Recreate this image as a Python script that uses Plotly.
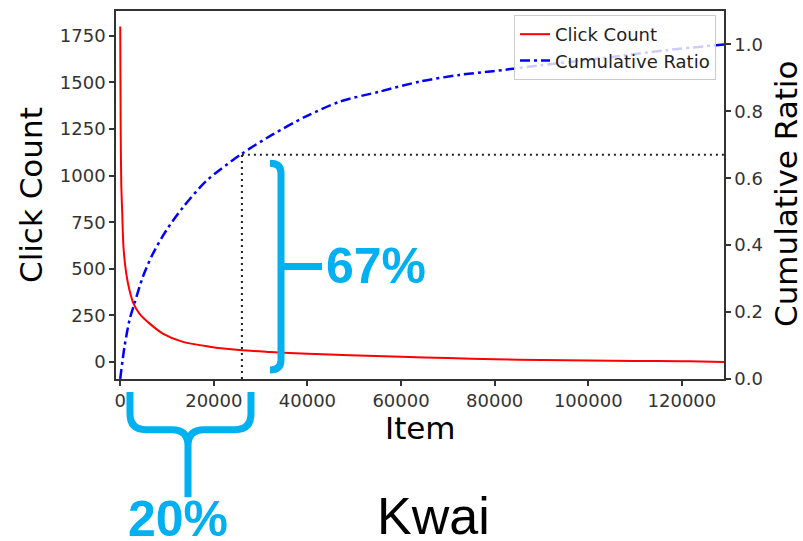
import plotly.graph_objects as go

# ---- data -------------------------------------------------------------
click_items = [0, 100, 220, 430, 700, 1300, 2000, 2850, 4100, 6300, 9100,
               13400, 19100, 25500, 32000, 40000, 49000, 60000, 70000,
               80000, 90000, 100000, 110000, 120000, 124000, 129000]
click_count = [1800, 1250, 960, 800, 615, 473, 384, 313, 260, 206, 153,
               108, 82, 64, 54, 44, 37, 28, 21,
               15, 11, 8, 6, 4, 3, 0]

ratio_items = [0, 920, 2000, 3050, 4830, 6970, 9830, 13400, 18400, 25850,
               32600, 39700, 46900, 55400, 64000, 72500, 79600, 90000,
               102500, 116700, 129000]
cum_ratio = [0.0, 0.097, 0.177, 0.226, 0.305, 0.374, 0.444, 0.513, 0.592, 0.672,
             0.731, 0.785, 0.829, 0.859, 0.889, 0.909, 0.920, 0.938,
             0.958, 0.983, 1.0]

total_items = 129000
cutoff_item = 26000
cutoff_ratio = 0.67

x_ticks = [0, 20000, 40000, 60000, 80000, 100000, 120000]
count_ticks = [0, 250, 500, 750, 1000, 1250, 1500, 1750]
ratio_ticks = [0.0, 0.2, 0.4, 0.6, 0.8, 1.0]

# ---- layout helpers (pixel -> paper) ----------------------------------
W, H = 803, 541
L, R, T, B = 116, 724, 9, 379


def px(xp):
    return (xp - L) / (R - L)


def py(yp):
    return (B - yp) / (B - T)


CYAN = "#00B0F0"
AXIS = "#333333"

fig = go.Figure()
fig.add_trace(go.Scatter(
    x=click_items, y=click_count, name="Click Count", mode="lines",
    line=dict(color="#FF0000", width=2, shape="spline", smoothing=0.8), yaxis="y"))
fig.add_trace(go.Scatter(
    x=ratio_items, y=cum_ratio, name="Cumulative Ratio", mode="lines",
    line=dict(color="#0000FF", width=2.5, dash="10px,4px,3px,4px",
              shape="spline", smoothing=0.8), yaxis="y2"))

shapes = [
    # dotted guide lines at the cutoff
    dict(type="line", xref="x", yref="y2", x0=cutoff_item, x1=cutoff_item,
         y0=0, y1=cutoff_ratio, line=dict(color="#222", width=2, dash="2px,4px")),
    dict(type="line", xref="x", yref="y2", x0=cutoff_item, x1=total_items,
         y0=cutoff_ratio, y1=cutoff_ratio, line=dict(color="#222", width=2, dash="2px,4px")),
]


def path(points_cmds):
    out = []
    for cmd, pts in points_cmds:
        coords = " ".join(f"{px(a):.4f},{py(b):.4f}" for a, b in pts)
        out.append(f"{cmd} {coords}")
    return " ".join(out)


# right square bracket with arm
bracket = path([
    ("M", [(270, 162)]), ("Q", [(281, 162), (281, 172)]),
    ("L", [(281, 360)]), ("Q", [(281, 370), (270, 370)]),
    ("M", [(281, 266)]), ("L", [(322, 266)]),
])
# horizontal curly brace under the x axis
brace = path([
    ("M", [(130, 392)]), ("L", [(130, 414)]), ("Q", [(130, 430), (146, 430)]),
    ("L", [(172, 430)]), ("Q", [(188, 430), (188, 446)]), ("L", [(188, 498)]),
    ("M", [(251, 392)]), ("L", [(251, 414)]), ("Q", [(251, 430), (235, 430)]),
    ("L", [(204, 430)]), ("Q", [(188, 430), (188, 446)]),
])
for p in (bracket, brace):
    shapes.append(dict(type="path", xref="paper", yref="paper", path=p,
                       line=dict(color=CYAN, width=7)))

annotations = [
    dict(text="Click Count", x=px(31), y=py(194), textangle=-90,
         font=dict(size=31, color="black")),
    dict(text="Cumulative Ratio", x=px(786), y=py(193), textangle=-90,
         font=dict(size=31, color="black")),
    dict(text="Item", x=px(420), y=py(428), font=dict(size=31, color="black")),
    dict(text=f"{round(cutoff_ratio * 100)}%", x=px(376), y=py(265),
         font=dict(size=50, color=CYAN, family="Liberation Sans", weight="bold")),
    dict(text=f"{round(cutoff_item / total_items * 100)}%", x=px(178), y=py(520),
         font=dict(size=50, color=CYAN, family="Liberation Sans", weight="bold")),
    dict(text="Kwai", x=px(433), y=py(517),
         font=dict(size=52, color="black", family="Liberation Sans")),
]
for a in annotations:
    a.update(xref="paper", yref="paper", showarrow=False,
             xanchor="center", yanchor="middle")

axis_common = dict(showline=True, linecolor=AXIS, linewidth=1.5, ticks="outside",
                   ticklen=5, tickwidth=1.5, tickcolor=AXIS, showgrid=False,
                   zeroline=False, tickfont=dict(size=18, color=AXIS))

fig.update_layout(
    width=W, height=H,
    margin=dict(l=L, r=W - R, t=T, b=H - B, pad=0),
    paper_bgcolor="white", plot_bgcolor="white",
    font=dict(family="DejaVu Sans", color="black"),
    xaxis=dict(range=[-900, total_items], tickvals=x_ticks, tickformat="d",
               mirror=True, **axis_common),
    yaxis=dict(range=[-91, 1883], tickvals=count_ticks, **axis_common),
    yaxis2=dict(range=[0, 1.1], tickvals=ratio_ticks, tickformat=".1f",
                overlaying="y", side="right", **axis_common),
    legend=dict(x=px(716), y=py(13), xanchor="right", yanchor="top",
                bgcolor="rgba(255,255,255,0.8)", bordercolor="#cccccc", borderwidth=1,
                font=dict(size=18, color="#222"), tracegroupgap=0),
    shapes=shapes,
    annotations=annotations,
    showlegend=True,
)

fig.write_html("out.html")
